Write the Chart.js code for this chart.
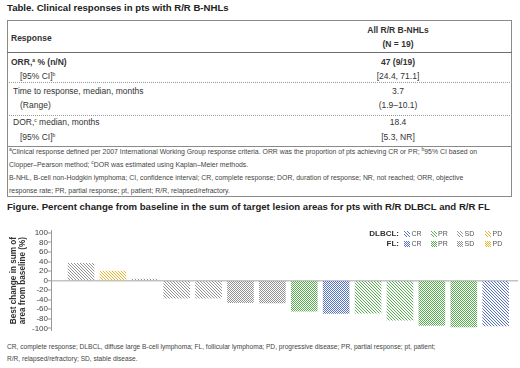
<!DOCTYPE html>
<html>
<head>
<meta charset="utf-8">
<script src="https://cdn.jsdelivr.net/npm/chart.js@4.4.1/dist/chart.umd.min.js"></script>
<style>
  body { margin: 0; background: #fff; font-family: "Liberation Sans", Arial, sans-serif; color: #333; }
  #page { position: relative; width: 520px; height: 368px; overflow: hidden; }
  .t { position: absolute; white-space: nowrap; line-height: 12px; height: 12px; }
  .b { font-weight: bold; }
  .title { font-size: 9.6px; font-weight: bold; color: #222; }
  .cell { font-size: 8.5px; color: #333; }
  .val { left: 284px; width: 228px; text-align: center; }
  .note { font-size: 6.9px; color: #444; }
  .note2 { font-size: 6.6px; color: #444; }
  .hline { position: absolute; left: 7px; width: 505px; height: 0; }
  sup { font-size: 5px; vertical-align: 3px; line-height: 0; }
  #box { position: absolute; left: 7px; top: 20px; width: 505px; height: 177px; border: 1px solid #8a8a8a; box-sizing: border-box; }
  #chart { position: absolute; left: 0; top: 222px; }
  .lg { position: absolute; font-size: 7px; color: #555; line-height: 10px; white-space: nowrap; }
  .lgh { position: absolute; font-size: 8px; font-weight: bold; color: #333; line-height: 10px; width: 60px; text-align: right; }
  .sw { position: absolute; width: 6px; height: 6px; }
</style>
</head>
<body>
<div id="page">
  <div class="t title" style="left:7px; top:2px;">Table. Clinical responses in pts with R/R B-NHLs</div>
  <div id="box"></div>
  <div class="hline" style="top:52px; border-top:1.5px solid #6e6e6e;"></div>
  <div class="hline" style="top:82px; border-top:1px dotted #9a9a9a;"></div>
  <div class="hline" style="top:115px; border-top:1px dotted #9a9a9a;"></div>
  <div class="hline" style="top:146px; border-top:1px solid #8a8a8a;"></div>
  <div class="t cell b" style="left:11px; top:32px;">Response</div>
  <div class="t cell b val" style="top:24px;">All R/R B-NHLs</div>
  <div class="t cell b val" style="top:38px;">(N = 19)</div>
  <div id="rows"></div>
  <div id="notes"></div>
  <div class="t title" style="left:7px; top:201px;">Figure. Percent change from baseline in the sum of target lesion areas for pts with R/R DLBCL and R/R FL</div>
  <canvas id="chart" width="520" height="114"></canvas>
  <div id="legend"></div>
  <div class="t note2" style="left:7px; top:341px;">CR, complete response; DLBCL, diffuse large B-cell lymphoma; FL, follicular lymphoma; PD, progressive disease; PR, partial response; pt, patient;</div>
  <div class="t note2" style="left:7px; top:353px;">R/R, relapsed/refractory; SD, stable disease.</div>
</div>
<script>
// table content
const rowLabels = ['ORR,<sup>a</sup> % (n/N)', '[95% CI]<sup>b</sup>', 'Time to response, median, months', '(Range)', 'DOR,<sup>c</sup> median, months', '[95% CI]<sup>b</sup>'];
const rowValues = ['47 (9/19)', '[24.4, 71.1]', '3.7', '(1.9–10.1)', '18.4', '[5.3, NR]'];
const tableNotes = [
  '<sup>a</sup>Clinical response defined per 2007 International Working Group response criteria. ORR was the proportion of pts achieving CR or PR; <sup>b</sup>95% CI based on',
  'Clopper–Pearson method; <sup>c</sup>DOR was estimated using Kaplan–Meier methods.',
  'B-NHL, B-cell non-Hodgkin lymphoma; CI, confidence interval; CR, complete response; DOR, duration of response; NR, not reached; ORR, objective',
  'response rate; PR, partial response; pt, patient; R/R, relapsed/refractory.'
];

// chart data
const barValues = [36, 20, 3, -37, -37, -46, -47, -64, -69, -68, -83, -94, -97, -95];
const barDisease = ['DLBCL', 'DLBCL', 'DLBCL', 'DLBCL', 'DLBCL', 'FL', 'FL', 'FL', 'FL', 'DLBCL', 'DLBCL', 'FL', 'FL', 'DLBCL'];
const barResponse = ['SD', 'PD', 'SD', 'SD', 'SD', 'SD', 'SD', 'PR', 'CR', 'PR', 'PR', 'PR', 'PR', 'CR'];
const yTicks = [100, 80, 60, 40, 20, 0, -20, -40, -60, -80, -100];
const yTitle = ['Best change in sum of', 'area from baseline (%)'];
const legendGroups = ['DLBCL', 'FL'];
const legendResponses = ['CR', 'PR', 'SD', 'PD'];

const responseColors = { CR: '#5672c6', PR: '#57ad50', SD: '#939393', PD: '#f0b22a' };
const font = '"Liberation Sans", Arial, sans-serif';

// layout for the table rows
const rowTop = [56, 69.5, 85, 99, 116, 131];
const rowIndent = [11, 20, 13, 20, 13, 20];
const noteTop = [146, 159, 171.5, 184.5];

let html = '';
rowLabels.forEach(function(label, i) {
  const bold = i === 0 ? ' b' : '';
  html += '<div class="t cell' + bold + '" style="left:' + rowIndent[i] + 'px; top:' + rowTop[i] + 'px;">' + label + '</div>';
  html += '<div class="t cell val' + bold + '" style="top:' + rowTop[i] + 'px;">' + rowValues[i] + '</div>';
});
document.getElementById('rows').innerHTML = html;

html = '';
tableNotes.forEach(function(note, i) {
  html += '<div class="t note" style="left:9px; top:' + noteTop[i] + 'px;">' + note + '</div>';
});
document.getElementById('notes').innerHTML = html;

// DLBCL bars are striped, FL bars are cross-hatched
function makePattern(color, disease) {
  const c = document.createElement('canvas');
  const g = c.getContext('2d');
  if (disease === 'DLBCL') {
    c.width = 3; c.height = 3;
    g.strokeStyle = color;
    g.lineWidth = 1;
    g.beginPath();
    g.moveTo(-1, -1); g.lineTo(4, 4);
    g.moveTo(-1, 2); g.lineTo(1, 4);
    g.moveTo(2, -1); g.lineTo(4, 1);
    g.stroke();
  } else {
    c.width = 2; c.height = 2;
    g.fillStyle = color;
    g.fillRect(0, 0, 1, 1);
    g.fillRect(1, 1, 1, 1);
  }
  return g.createPattern(c, 'repeat');
}

const patterns = barValues.map(function(v, i) {
  return makePattern(responseColors[barResponse[i]], barDisease[i]);
});

// legend
const legendTop = [229, 239];
const swatchX = [404, 430.5, 457, 485];
html = '';
legendGroups.forEach(function(group, r) {
  html += '<div class="lgh" style="left:339px; top:' + legendTop[r] + 'px;">' + group + ':</div>';
  legendResponses.forEach(function(resp, k) {
    html += '<canvas class="sw" id="sw-' + r + '-' + k + '" width="6" height="6" style="left:' + swatchX[k] + 'px; top:' + (legendTop[r] + 2) + 'px;"></canvas>';
    html += '<div class="lg" style="left:' + (swatchX[k] + 7.5) + 'px; top:' + legendTop[r] + 'px;">' + resp + '</div>';
  });
});
document.getElementById('legend').innerHTML = html;
legendGroups.forEach(function(group, r) {
  legendResponses.forEach(function(resp, k) {
    const sw = document.getElementById('sw-' + r + '-' + k).getContext('2d');
    sw.fillStyle = makePattern(responseColors[resp], group);
    sw.fillRect(0, 0, 6, 6);
  });
});

new Chart(document.getElementById('chart').getContext('2d'), {
  type: 'bar',
  data: {
    datasets: [{
      data: barValues.map(function(v, i) { return { x: i, y: v }; }),
      backgroundColor: patterns,
      borderWidth: 0,
      barThickness: 26
    }]
  },
  options: {
    responsive: false,
    animation: false,
    layout: { padding: { top: 8, bottom: 3, left: 0, right: 2 } },
    plugins: { legend: { display: false }, tooltip: { enabled: false } },
    scales: {
      x: { type: 'linear', display: false, offset: false, min: -0.94, max: 13.7 },
      y: {
        min: -106,
        max: 106,
        afterBuildTicks: function(scale) {
          scale.ticks = yTicks.map(function(v) { return { value: v }; });
        },
        afterFit: function(scale) { scale.width = 51; },
        ticks: { autoSkip: false, padding: 0, color: '#444', font: { family: font, size: 8 } },
        grid: {
          color: function(c) { return c.tick && c.tick.value === 0 ? '#c4c4c4' : 'rgba(0,0,0,0)'; },
          lineWidth: function(c) { return c.tick && c.tick.value === 0 ? 1.5 : 0; },
          tickColor: '#999',
          tickWidth: 1,
          tickLength: 3
        },
        border: { color: '#999', width: 1 },
        title: {
          display: true,
          text: yTitle,
          color: '#333',
          font: { family: font, size: 8.2, weight: 'bold', lineHeight: 1.15 },
          padding: { top: 9, bottom: 0 }
        }
      }
    }
  }
});
</script>
</body>
</html>
